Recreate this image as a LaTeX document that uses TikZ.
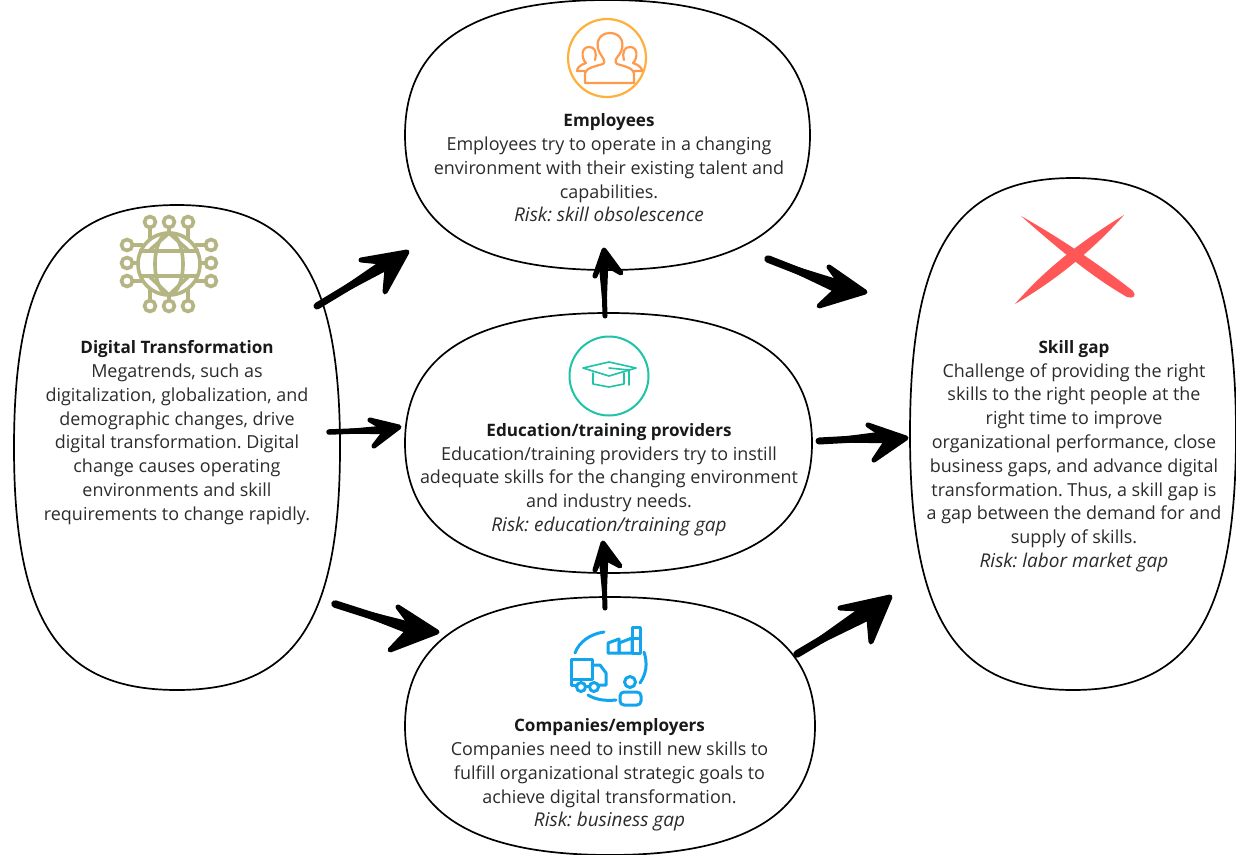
\documentclass[tikz,border=0pt]{standalone}
\usepackage{fontspec}
\setmainfont{Open Sans}
\usetikzlibrary{calc}
\definecolor{inkc}{HTML}{2B2B2B}
\definecolor{olivec}{HTML}{B4B582}
\definecolor{orangec}{HTML}{FFB03A}
\definecolor{orangeb}{HTML}{FF9A4D}
\definecolor{tealc}{HTML}{1FC3A8}
\definecolor{bluec}{HTML}{12A5EE}
\definecolor{redc}{HTML}{FF5757}
\newcommand{\blob}[6]{% name cx cy rx ry kappa
  \coordinate (#1) at (#2,#3);
  \draw[blobline] (#2-#4,#3) .. controls (#2-#4,#3-#6*#5) and (#2-#6*#4,#3-#5) .. (#2,#3-#5)
    .. controls (#2+#6*#4,#3-#5) and (#2+#4,#3-#6*#5) .. (#2+#4,#3)
    .. controls (#2+#4,#3+#6*#5) and (#2+#6*#4,#3+#5) .. (#2,#3+#5)
    .. controls (#2-#6*#4,#3+#5) and (#2-#4,#3+#6*#5) .. (#2-#4,#3) -- cycle;}
\newcommand{\hand}[8]{% name, start, tip, barb a, barb b, notch a, notch b, shaft width
  \coordinate (#1s) at #2; \coordinate (#1t) at #3; \coordinate (#1a) at #4; \coordinate (#1b) at #5;
  \coordinate (#1na) at #6; \coordinate (#1nb) at #7;
  \filldraw[handarrow,line width=2.5pt] (#1s) -- (#1na) -- (#1nb) -- cycle;
  \filldraw[handarrow,line width=5pt] (#1a) -- (#1t) -- (#1b) -- (#1nb) -- (#1na) -- cycle;
  \draw[handarrow,line width=#8] (#1s) -- ($(#1na)!0.5!(#1nb)$);}
\newcommand{\bt}[1]{{\fontsize{17.1}{23.8}\selectfont\bfseries\color{black!90} #1}}
\tikzset{
  x=1pt,y=-1pt,
  blobline/.style={draw=black,line width=1.7pt},
  handarrow/.style={draw=black,fill=black,line cap=round,line join=round},
  bodytext/.style={font=\fontsize{17.95}{23.8}\selectfont\frenchspacing,text=inkc,align=center,inner sep=0pt,anchor=north},
  iconline/.style={line width=2.2pt,line cap=round,line join=round},
}
\newcommand{\rk}[1]{{\fontsize{19}{23.8}\selectfont\itshape #1}}
\begin{document}
\begin{tikzpicture}
\useasboundingbox (0,0) rectangle (1236,854);
\fill[white] (0,0) rectangle (1236,854);
\blob{empb}{607.5}{135}{202.5}{135}{0.67}
\blob{digb}{177}{447.5}{163}{242.5}{0.72}
\blob{edub}{608.5}{443}{203.5}{130}{0.67}
\blob{comb}{610}{726}{205}{129}{0.67}
\blob{skib}{1073}{434}{163}{256}{0.72}

% Digital icon
\begin{scope}[olivec,line width=3.6pt]
\coordinate (g) at (169,264);
\draw (g) circle (31);
\draw (g) ellipse (14 and 31);
\draw (139,251) -- (199,251) (139,276) -- (199,276);
\draw (169,233) -- (150,250) (169,233) -- (188,250);
\draw (169,295) -- (150,277) (169,295) -- (188,277);
\foreach \xx in {150,169,188}{\draw (\xx,222) circle (5.5); \draw (\xx,306) circle (5.5);}
\foreach \yy in {245,263,281}{\draw (127,\yy) circle (5.5); \draw (211,\yy) circle (5.5);}
\draw (150,227.5) -- (150,240) (169,227.5) -- (169,233) (188,227.5) -- (188,240);
\draw (150,300.5) -- (150,288) (169,300.5) -- (169,295) (188,300.5) -- (188,288);
\draw (132.5,245) -- (143,245) (132.5,263) -- (138,263) (132.5,281) -- (143,281);
\draw (205.5,245) -- (195,245) (205.5,263) -- (200,263) (205.5,281) -- (195,281);
\end{scope}

% Employees icon
\draw[orangec,line width=2.2pt] (607,58) circle (39);
\begin{scope}[orangeb,iconline]
\draw (585,83) -- (585,73) .. controls (586,68) and (596,66) .. (603,64)
  .. controls (606,62) and (603,58) .. (601,55) .. controls (594,45) and (598,33) .. (610,33)
  .. controls (622,33) and (626,45) .. (619,55) .. controls (616,58) and (614,62) .. (617,64)
  .. controls (624,66) and (633,68) .. (634,73) -- (634,83) -- cycle;
\draw (595,60) .. controls (597,52) and (595,47) .. (589,47) .. controls (581,47) and (581,58) .. (586,63)
  .. controls (580,65) and (577,68) .. (577,71) -- (585,71);
\draw (624,60) .. controls (622,52) and (624,47) .. (630,47) .. controls (638,47) and (638,58) .. (633,63)
  .. controls (639,65) and (642,68) .. (642,71) -- (634,71);
\end{scope}

% Education icon
\draw[tealc,line width=2pt] (609,376) circle (39.5);
\begin{scope}[tealc,line width=1.6pt,line join=round,line cap=round]
\draw (583,368) -- (609,362) -- (636,368) -- (609,376) -- cycle;
\draw (593,373) -- (593,384) -- (609,387) -- (624,384) -- (624,373);
\draw (609,368) -- (629,370) -- (629,385);
\end{scope}

% Companies icon
\begin{scope}[bluec,line width=3pt,line join=round,line cap=round]
\draw (575,653) .. controls (579,642) and (590,634) .. (604,632);
\draw (644,652) .. controls (648,664) and (646,674) .. (640,683);
\draw (588,695) .. controls (596,700) and (606,701) .. (616,700);
\draw (571,659) rectangle (592,679);
\draw (592,665) -- (600,665) -- (606,673) -- (606,685) -- (599,685);
\draw (571,679) -- (571,685) -- (576,685);
\draw (581,687) circle (4.5);
\draw (594,687) circle (4.5);
\draw (586,686) -- (589,686);
\draw (608,653) -- (608,643) -- (619,639) -- (619,653) -- cycle;
\draw (619,653) -- (619,643) -- (632,638) -- (632,653) -- cycle;
\draw (632,627) rectangle (640,653);
\draw (632,638) -- (640,638);
\draw (630,682) circle (5.5);
\draw[rounded corners=4] (620,692) rectangle (641,705);
\end{scope}

% Red cross
\fill[redc] (1021,216) .. controls (1060,238) and (1100,265) .. (1133,291)
  .. controls (1137,296) and (1133,299) .. (1127,297)
  .. controls (1092,277) and (1056,247) .. (1021,216) -- cycle;
\fill[redc] (1124,215) .. controls (1083,240) and (1046,268) .. (1015,304)
  .. controls (1056,280) and (1093,250) .. (1124,215) -- cycle;

% Texts
\node[bodytext] (t1) at (609,113.5) {\bt{Employees}\\Employees try to operate in a changing\\environment with their existing talent and\\capabilities.\\\rk{Risk: skill obsolescence}};
\node[bodytext] (t2) at (177,340.5) {\bt{Digital Transformation}\\Megatrends, such as\\digitalization, globalization, and\\demographic changes, drive\\digital transformation. Digital\\change causes operating\\environments and skill\\requirements to change rapidly.};
\node[bodytext] (t3) at (609,423) {\bt{Education/training providers}\\Education/training providers try to instill\\adequate skills for the changing environment\\and industry needs.\\\rk{Risk: education/training gap}};
\node[bodytext] (t4) at (609.5,718.5) {\bt{Companies/employers}\\Companies need to instill new skills to\\fulfill organizational strategic goals to\\achieve digital transformation.\\\rk{Risk: business gap}};
\node[bodytext] (t5) at (1074,340) {\bt{Skill gap}\\Challenge of providing the right\\skills to the right people at the\\right time to improve\\organizational performance, close\\business gaps, and advance digital\\transformation. Thus, a skill gap is\\a gap between the demand for and\\supply of skills.\\\rk{Risk: labor market gap}};

% Arrows
\hand{aa}{(317,306)}{(407,252)}{(361,260)}{(385,292)}{(381,262)}{(387,269)}{7pt}
\hand{ab}{(329,432)}{(399,427)}{(370,420)}{(374,446)}{(382,427)}{(384,433)}{5.5pt}
\hand{ac}{(335,604)}{(437,632)}{(398,607)}{(390,650)}{(410,623)}{(407,632)}{7.5pt}
\hand{ad}{(768,259)}{(865,292)}{(829,267)}{(819,306)}{(839,281)}{(835,291)}{7.5pt}
\hand{ae}{(605,316)}{(604,250)}{(595,276)}{(621,273)}{(600,265)}{(607,265)}{5pt}
\hand{af}{(605,608)}{(603,543)}{(595,570)}{(620,566)}{(600,559)}{(607,559)}{5pt}
\hand{ag}{(819,441)}{(906,438)}{(868,425)}{(874,460)}{(880,433)}{(886,442)}{7pt}
\hand{ah}{(797,654)}{(890,597)}{(840,608)}{(871,642)}{(860,609)}{(869,619)}{7.5pt}
\end{tikzpicture}
\end{document}
